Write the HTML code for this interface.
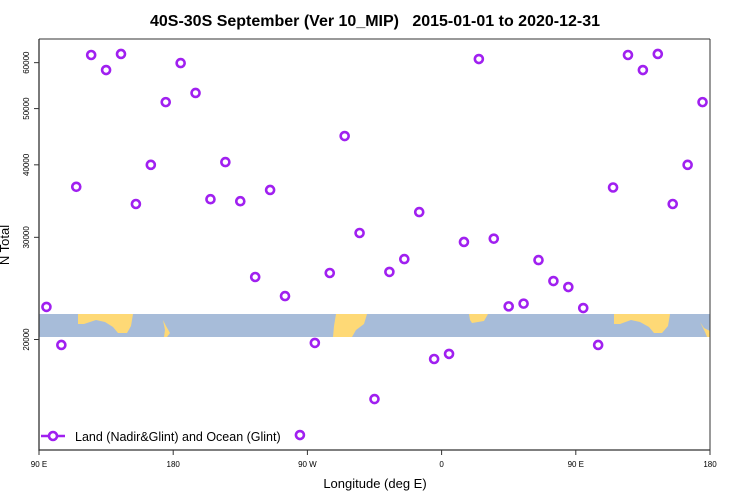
<!DOCTYPE html>
<html><head><meta charset="utf-8"><style>
body{margin:0;background:#fff}
svg{display:block;font-family:"Liberation Sans",sans-serif}
</style></head><body>
<svg id="chart" width="750" height="500" viewBox="0 0 750 500">
<text x="375" y="26" text-anchor="middle" font-size="16" font-weight="bold" style="white-space:pre">40S-30S September (Ver 10_MIP)   2015-01-01 to 2020-12-31</text>
<rect x="39" y="314" width="671" height="23" fill="#a7bcd9"/>
<g fill="#fed976">
<path d="M78,314 L133,314 L131,326 L127,333 L118,333 L113,327 L105,322 L96,320 L84,324 L78,324Z"/>
<path d="M163,320 L166,326 L170,333 L167,337 L164,337 L165,330Z"/>
<path d="M336,314 L367,314 L364,324 L356,330 L352,337 L333,337 L334,326Z"/>
<path d="M469,314 L488,314 L484,321 L472,323 L470,320Z"/>
<path d="M614,314 L670,314 L668,326 L662,333 L654,333 L649,327 L640,322 L631,320 L620,324 L614,324Z"/>
<path d="M700,322 L704,328 L710,331 L710,337 L707,337 L705,332Z"/>
</g>
<line x1="39" y1="39" x2="710" y2="39" stroke="#333"/>
<line x1="710" y1="39" x2="710" y2="450" stroke="#333"/>
<line x1="39" y1="39" x2="39" y2="451" stroke="#333" stroke-width="1.3"/>
<line x1="39" y1="450" x2="710" y2="450" stroke="#333" stroke-width="1.3"/>
<g id="xticks"></g>
<g id="yticks"></g>
<g id="points"></g>
<text transform="translate(9,245) rotate(-90)" text-anchor="middle" font-size="13">N Total</text>
<text x="375" y="488" text-anchor="middle" font-size="13">Longitude (deg E)</text>
<g>
<line x1="41" y1="436" x2="65" y2="436" stroke="#a020f0" stroke-width="2.5"/>
<circle cx="53" cy="436" r="4" fill="#fff" stroke="#a020f0" stroke-width="2.6"/>
<text x="75" y="441" font-size="12.5">Land (Nadir&amp;Glint) and Ocean (Glint)</text>
</g>
</svg>
<script>
const longitudes=[95,105,115,125,135,145,155,165,175,185,195,205,215,225,235,245,255,265,275,285,295,305,315,325,335,345,355,365,375,385,395,405,415,425,435,445,455,465,475,485,495,505,515,525,535];
const nTotal=[22760,19570,36660,61850,58270,62100,34240,40000,51300,59900,53200,34900,40440,34620,25630,36200,23760,13690,19730,26040,44840,30520,15790,26150,27520,33160,18510,18890,29450,60870,29840,22810,23060,27410,25220,24630,22660,19570,36560,61850,58270,62100,34240,40000,51300];
const xTickVals=[90,180,270,360,450,540];
const xTickLabels=["90 E","180","90 W","0","90 E","180"];
const yTickVals=[20000,30000,40000,50000,60000];
const NS="http://www.w3.org/2000/svg";
function xs(lon){return 39+(lon-90)*671/450;}
function ys(v){return 339.5-252*Math.log(v/20000);}
const xt=document.getElementById('xticks');
xTickVals.forEach((v,i)=>{
 const l=document.createElementNS(NS,'line');
 l.setAttribute('x1',xs(v));l.setAttribute('x2',xs(v));l.setAttribute('y1',450);l.setAttribute('y2',455);l.setAttribute('stroke','#333');
 
 
 xt.appendChild(l);
 const t=document.createElementNS(NS,'text');
 t.setAttribute('x',xs(v));t.setAttribute('y',467);t.setAttribute('text-anchor','middle');t.setAttribute('font-size','8');
 t.textContent=xTickLabels[i];
 
 
 xt.appendChild(t);
});
const yt=document.getElementById('yticks');
yTickVals.forEach(v=>{
 const y=ys(v);
 const l=document.createElementNS(NS,'line');
 l.setAttribute('x1',34);l.setAttribute('x2',39);l.setAttribute('y1',y);l.setAttribute('y2',y);l.setAttribute('stroke','#333');
 
 
 yt.appendChild(l);
 const t=document.createElementNS(NS,'text');
 t.setAttribute('transform','translate(29,'+y+') rotate(-90)');t.setAttribute('text-anchor','middle');t.setAttribute('font-size','8');
 t.textContent=v;
 
 
 yt.appendChild(t);
});
const pg=document.getElementById('points');
longitudes.forEach((lon,i)=>{
 const c=document.createElementNS(NS,'circle');
 c.setAttribute('cx',xs(lon));c.setAttribute('cy',ys(nTotal[i]));c.setAttribute('r',4);
 c.setAttribute('fill','#fff');c.setAttribute('stroke','#a020f0');c.setAttribute('stroke-width','2.6');
 
 
 pg.appendChild(c);
});
</script>
</body></html>
